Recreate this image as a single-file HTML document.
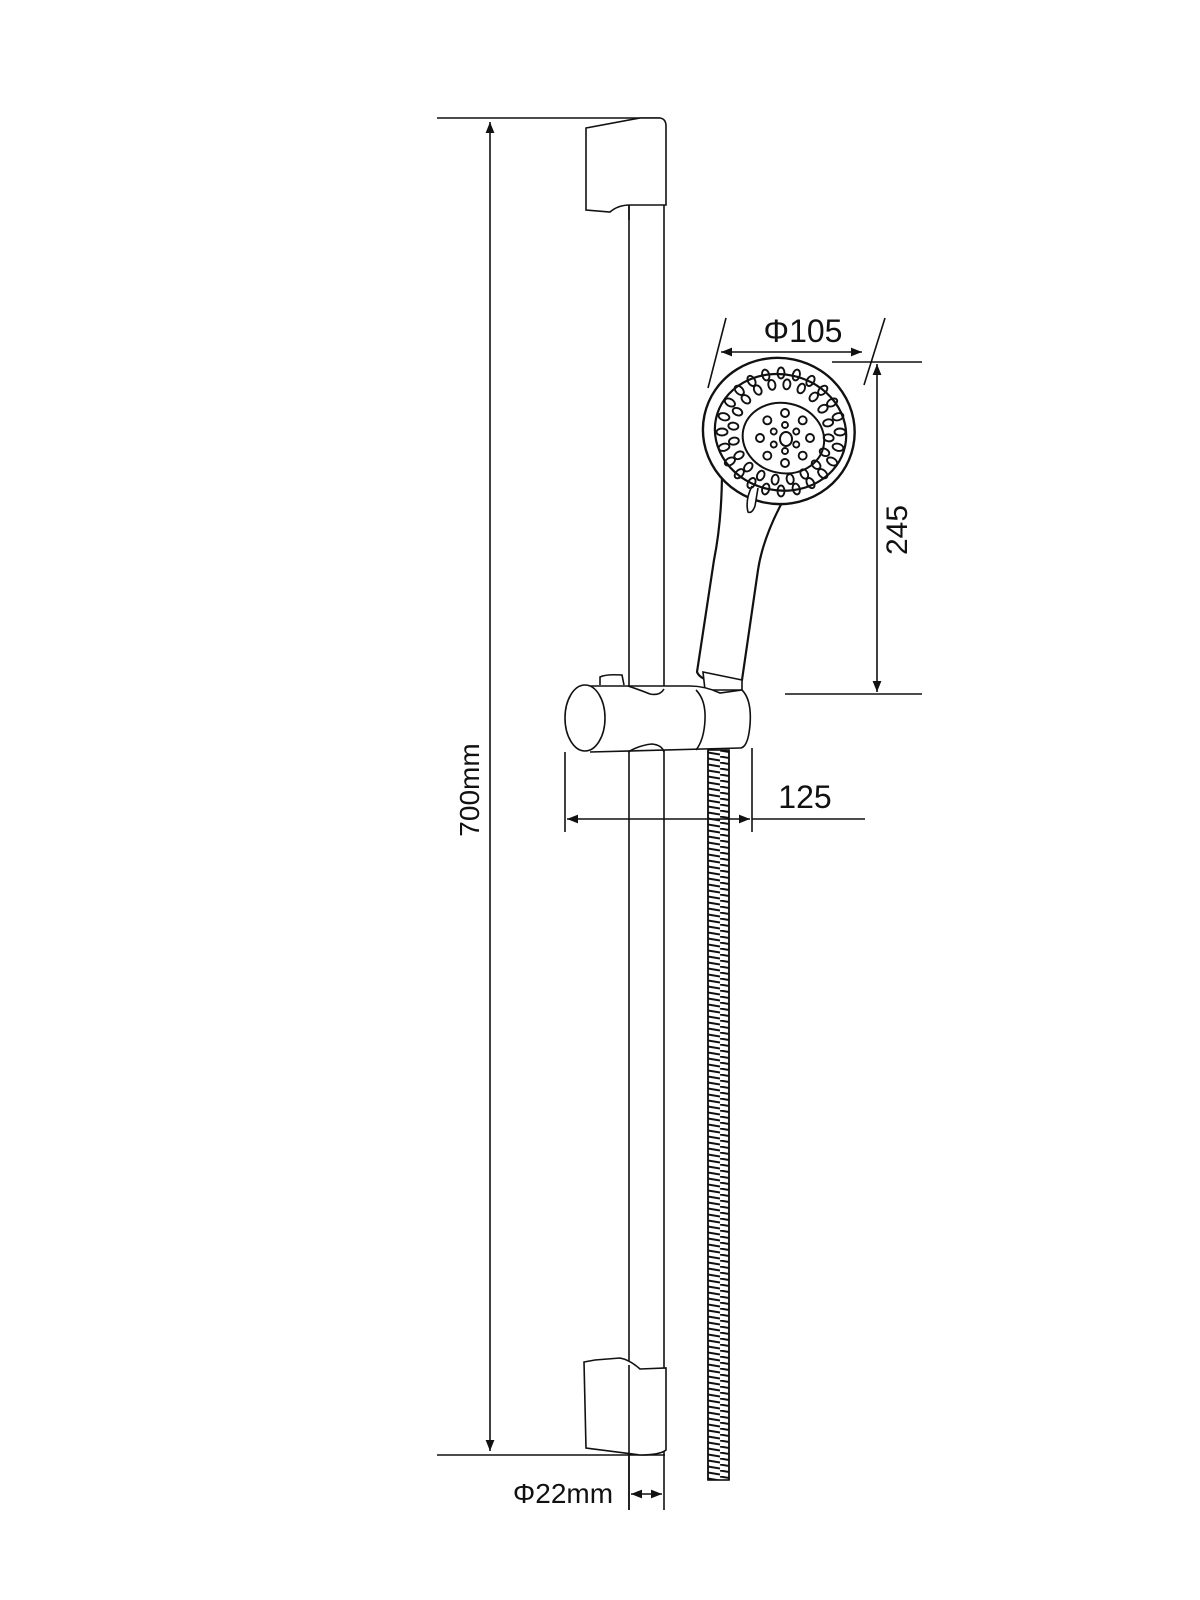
<!DOCTYPE html>
<html><head><meta charset="utf-8"><style>
html,body{margin:0;padding:0;background:#fff;}
svg{display:block}
text{font-family:"Liberation Sans",Arial,sans-serif;fill:#111}
</style></head><body>
<svg width="1200" height="1600" viewBox="0 0 1200 1600" xmlns="http://www.w3.org/2000/svg">
<defs>
<marker id="a" viewBox="0 0 10 10" refX="10" refY="5" markerWidth="11" markerHeight="11" orient="auto-start-reverse" markerUnits="userSpaceOnUse"><path d="M0,1 L10,5 L0,9 z" fill="#111"/></marker>
<pattern id="hose" width="24" height="6" patternUnits="userSpaceOnUse"><path d="M0,0.5 L24,4.5" stroke="#111" stroke-width="2"/></pattern>
</defs>
<g stroke="#111" fill="none" stroke-width="1.6">
<!-- 700mm dimension -->
<line x1="437" y1="118" x2="660" y2="118"/>
<line x1="437" y1="1455" x2="665" y2="1455"/>
<line x1="490" y1="122" x2="490" y2="1451" marker-start="url(#a)" marker-end="url(#a)"/>
<!-- rail -->
<line x1="629" y1="205" x2="629" y2="1510"/>
<line x1="664" y1="205" x2="664" y2="1510"/>
<!-- top bracket -->
<path d="M586,128 L640,118 L660,118 Q666,119 666,126 L666,205 L630,205 Q618,205 610,212 L586,210 Z" fill="#fff"/>
<line x1="629" y1="205" x2="629" y2="220"/>
<!-- bottom bracket -->
<path d="M584,1362 L595,1360 L620,1358 Q630,1360 640,1369 L666,1368 L666,1450 Q660,1455 640,1455 L586,1448 Z" fill="#fff"/>
<line x1="629" y1="1365" x2="629" y2="1510"/>
<!-- phi22 -->
<line x1="631" y1="1494" x2="662" y2="1494" marker-start="url(#a)" marker-end="url(#a)"/>
<!-- hose -->
<rect x="708" y="750" width="21" height="730" fill="url(#hose)"/>
<line x1="708" y1="750" x2="708" y2="1480"/>
<line x1="729" y1="750" x2="729" y2="1480"/>
<!-- handle -->
<path d="M722,470 Q722,520 714,560 L697,672 Q700,680 720,684 Q738,686 742,680 L758,570 Q764,530 795,480" fill="#fff" stroke-width="2.2"/>
<!-- coupling -->
<path d="M703,672 L705,690 L742,690 L742,680 Z" fill="#fff"/>
<!-- head -->
<g transform="rotate(12 779 430)">
<ellipse cx="779" cy="431" rx="76" ry="73" fill="#fff" stroke-width="2.4"/>
<ellipse cx="781" cy="432" rx="66" ry="58" stroke-width="2.2"/>
<ellipse cx="785" cy="437" rx="41" ry="35" stroke-width="2"/>
</g>
<path d="M752,486 Q745,500 748,512 Q752,514 755,506 L758,488" fill="#fff"/>
<g stroke-width="1.9">
<g>
<ellipse cx="781" cy="373" rx="3.5" ry="5.5"/>
<ellipse cx="781" cy="373" rx="3.5" ry="5.5" transform="rotate(15 781 432)"/>
<ellipse cx="781" cy="373" rx="3.5" ry="5.5" transform="rotate(30 781 432)"/>
<ellipse cx="781" cy="373" rx="3.5" ry="5.5" transform="rotate(45 781 432)"/>
<ellipse cx="781" cy="373" rx="3.5" ry="5.5" transform="rotate(60 781 432)"/>
<ellipse cx="781" cy="373" rx="3.5" ry="5.5" transform="rotate(75 781 432)"/>
<ellipse cx="781" cy="373" rx="3.5" ry="5.5" transform="rotate(90 781 432)"/>
<ellipse cx="781" cy="373" rx="3.5" ry="5.5" transform="rotate(105 781 432)"/>
<ellipse cx="781" cy="373" rx="3.5" ry="5.5" transform="rotate(120 781 432)"/>
<ellipse cx="781" cy="373" rx="3.5" ry="5.5" transform="rotate(135 781 432)"/>
<ellipse cx="781" cy="373" rx="3.5" ry="5.5" transform="rotate(150 781 432)"/>
<ellipse cx="781" cy="373" rx="3.5" ry="5.5" transform="rotate(165 781 432)"/>
<ellipse cx="781" cy="373" rx="3.5" ry="5.5" transform="rotate(180 781 432)"/>
<ellipse cx="781" cy="373" rx="3.5" ry="5.5" transform="rotate(195 781 432)"/>
<ellipse cx="781" cy="373" rx="3.5" ry="5.5" transform="rotate(210 781 432)"/>
<ellipse cx="781" cy="373" rx="3.5" ry="5.5" transform="rotate(225 781 432)"/>
<ellipse cx="781" cy="373" rx="3.5" ry="5.5" transform="rotate(240 781 432)"/>
<ellipse cx="781" cy="373" rx="3.5" ry="5.5" transform="rotate(255 781 432)"/>
<ellipse cx="781" cy="373" rx="3.5" ry="5.5" transform="rotate(270 781 432)"/>
<ellipse cx="781" cy="373" rx="3.5" ry="5.5" transform="rotate(285 781 432)"/>
<ellipse cx="781" cy="373" rx="3.5" ry="5.5" transform="rotate(300 781 432)"/>
<ellipse cx="781" cy="373" rx="3.5" ry="5.5" transform="rotate(315 781 432)"/>
<ellipse cx="781" cy="373" rx="3.5" ry="5.5" transform="rotate(330 781 432)"/>
<ellipse cx="781" cy="373" rx="3.5" ry="5.5" transform="rotate(345 781 432)"/>
</g>
<g>
<ellipse cx="781" cy="384" rx="3.5" ry="5" transform="rotate(7 781 432)"/>
<ellipse cx="781" cy="384" rx="3.5" ry="5" transform="rotate(25 781 432)"/>
<ellipse cx="781" cy="384" rx="3.5" ry="5" transform="rotate(43 781 432)"/>
<ellipse cx="781" cy="384" rx="3.5" ry="5" transform="rotate(61 781 432)"/>
<ellipse cx="781" cy="384" rx="3.5" ry="5" transform="rotate(79 781 432)"/>
<ellipse cx="781" cy="384" rx="3.5" ry="5" transform="rotate(97 781 432)"/>
<ellipse cx="781" cy="384" rx="3.5" ry="5" transform="rotate(115 781 432)"/>
<ellipse cx="781" cy="384" rx="3.5" ry="5" transform="rotate(133 781 432)"/>
<ellipse cx="781" cy="384" rx="3.5" ry="5" transform="rotate(151 781 432)"/>
<ellipse cx="781" cy="384" rx="3.5" ry="5" transform="rotate(169 781 432)"/>
<ellipse cx="781" cy="384" rx="3.5" ry="5" transform="rotate(187 781 432)"/>
<ellipse cx="781" cy="384" rx="3.5" ry="5" transform="rotate(205 781 432)"/>
<ellipse cx="781" cy="384" rx="3.5" ry="5" transform="rotate(223 781 432)"/>
<ellipse cx="781" cy="384" rx="3.5" ry="5" transform="rotate(241 781 432)"/>
<ellipse cx="781" cy="384" rx="3.5" ry="5" transform="rotate(259 781 432)"/>
<ellipse cx="781" cy="384" rx="3.5" ry="5" transform="rotate(277 781 432)"/>
<ellipse cx="781" cy="384" rx="3.5" ry="5" transform="rotate(295 781 432)"/>
<ellipse cx="781" cy="384" rx="3.5" ry="5" transform="rotate(313 781 432)"/>
<ellipse cx="781" cy="384" rx="3.5" ry="5" transform="rotate(331 781 432)"/>
<ellipse cx="781" cy="384" rx="3.5" ry="5" transform="rotate(349 781 432)"/>
</g>
<g>
<circle cx="785" cy="413" r="4"/>
<circle cx="785" cy="413" r="4" transform="rotate(45 785 438)"/>
<circle cx="785" cy="413" r="4" transform="rotate(90 785 438)"/>
<circle cx="785" cy="413" r="4" transform="rotate(135 785 438)"/>
<circle cx="785" cy="413" r="4" transform="rotate(180 785 438)"/>
<circle cx="785" cy="413" r="4" transform="rotate(225 785 438)"/>
<circle cx="785" cy="413" r="4" transform="rotate(270 785 438)"/>
<circle cx="785" cy="413" r="4" transform="rotate(315 785 438)"/>
<circle cx="785" cy="425" r="3"/>
<circle cx="785" cy="425" r="3" transform="rotate(60 785 438)"/>
<circle cx="785" cy="425" r="3" transform="rotate(120 785 438)"/>
<circle cx="785" cy="425" r="3" transform="rotate(180 785 438)"/>
<circle cx="785" cy="425" r="3" transform="rotate(240 785 438)"/>
<circle cx="785" cy="425" r="3" transform="rotate(300 785 438)"/>
<ellipse cx="786" cy="439" rx="6" ry="7" stroke-width="2"/>
</g>
</g>
<!-- slider -->
<path d="M600,685 L600,677 Q606,674 622,675 L624,685" fill="#fff"/>
<path d="M585,686 L690,686 Q705,686 720,693 L742,690 Q752,700 750,725 Q748,748 740,748 L590,752" fill="#fff"/>
<path d="M628,686 Q640,690 650,694 Q660,696 664,689"/>
<path d="M628,752 Q640,745 652,744 Q662,745 664,752"/>
<path d="M696,690 Q706,700 705,720 Q704,740 696,750"/>
<ellipse cx="585" cy="718" rx="20" ry="33" fill="#fff"/>
<!-- 125 dimension -->
<line x1="565" y1="752" x2="565" y2="832"/>
<line x1="752" y1="748" x2="752" y2="832"/>
<line x1="567" y1="819" x2="750" y2="819" marker-start="url(#a)" marker-end="url(#a)"/>
<line x1="752" y1="819" x2="865" y2="819"/>
<!-- 245 dimension -->
<line x1="832" y1="362" x2="922" y2="362"/>
<line x1="785" y1="694" x2="922" y2="694"/>
<line x1="877" y1="364" x2="877" y2="692" marker-start="url(#a)" marker-end="url(#a)"/>
<!-- phi105 -->
<line x1="726" y1="318" x2="708" y2="388"/>
<line x1="885" y1="318" x2="864" y2="385"/>
<line x1="721" y1="352" x2="862" y2="352" marker-start="url(#a)" marker-end="url(#a)"/>
</g>
<text x="803" y="342" font-size="32" text-anchor="middle">Φ105</text>
<text x="805" y="808" font-size="32" text-anchor="middle">125</text>
<text x="563" y="1503" font-size="28" text-anchor="middle">Φ22mm</text>
<text transform="translate(907,530) rotate(-90)" font-size="30" text-anchor="middle">245</text>
<text transform="translate(479,790) rotate(-90)" font-size="28" text-anchor="middle">700mm</text>
</svg>
</body></html>
